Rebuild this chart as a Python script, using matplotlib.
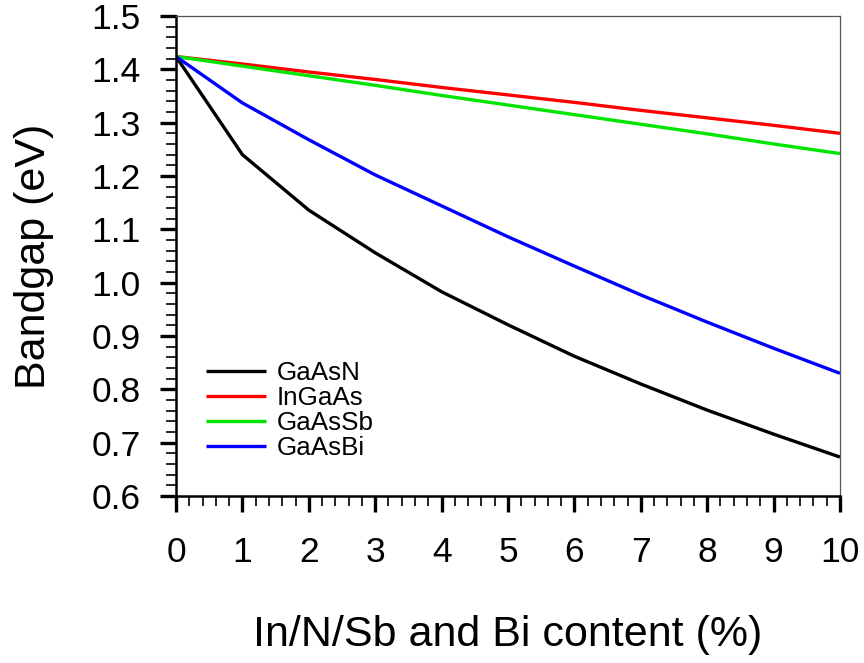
import numpy as np
import matplotlib.pyplot as plt
from matplotlib.ticker import MultipleLocator

# Bandgap vs. alloy content (%)
content = [0, 1, 2, 3, 4, 5, 6, 7, 8, 9, 10]
gaasn = [1.424, 1.240, 1.136, 1.056, 0.983, 0.921, 0.862, 0.810, 0.761, 0.716, 0.673]
ingaas = [1.424, 1.410, 1.395, 1.381, 1.366, 1.352, 1.338, 1.323, 1.309, 1.295, 1.280]
gaassb = [1.424, 1.406, 1.388, 1.370, 1.351, 1.333, 1.315, 1.297, 1.279, 1.260, 1.242]
gaasbi = [1.424, 1.337, 1.268, 1.202, 1.144, 1.086, 1.031, 0.977, 0.926, 0.877, 0.830]

series = [
    ('GaAsN', gaasn, '#000000'),
    ('InGaAs', ingaas, '#ff0000'),
    ('GaAsSb', gaassb, '#00e600'),
    ('GaAsBi', gaasbi, '#0000ff'),
]

plt.rcParams['font.family'] = ['Liberation Sans', 'DejaVu Sans']

fig = plt.figure(figsize=(8.64, 6.63), dpi=100)
ax = fig.add_axes([0.2037, 0.2519, 0.7685, 0.7240])

for name, vals, color in series:
    ax.plot(content, vals, color=color, linewidth=2.4, label=name, solid_capstyle='butt')

ax.set_xlim(0, 10)
ax.set_ylim(0.6, 1.5)
ax.xaxis.set_major_locator(MultipleLocator(1))
ax.xaxis.set_minor_locator(MultipleLocator(0.2))
ax.yaxis.set_major_locator(MultipleLocator(0.1))
ax.yaxis.set_minor_locator(MultipleLocator(0.02))
ax.yaxis.set_major_formatter(plt.FormatStrFormatter('%.1f'))

ax.tick_params(which='major', direction='out', length=11.5, width=2.4,
               labelsize=25.5, top=False, right=False)
ax.tick_params(which='minor', direction='out', length=7, width=1.2,
               top=False, right=False)
ax.tick_params(axis='x', which='major', pad=17.5)
ax.tick_params(axis='y', which='major', pad=14)

for side in ['left', 'bottom']:
    ax.spines[side].set_linewidth(1.8)
for side in ['top', 'right']:
    ax.spines[side].set_linewidth(0.9)
    ax.spines[side].set_color('#555555')

ax.set_xlabel('In/N/Sb and Bi content (%)', fontsize=31, labelpad=33)
ax.set_ylabel('Bandgap (eV)', fontsize=31, labelpad=27)

ax.legend(loc='lower left', bbox_to_anchor=(0.03, 0.053), frameon=False,
          fontsize=18.7, handlelength=2.3, handletextpad=0.42,
          labelspacing=0.04, borderaxespad=0)

fig.savefig('out.png', dpi=100)
